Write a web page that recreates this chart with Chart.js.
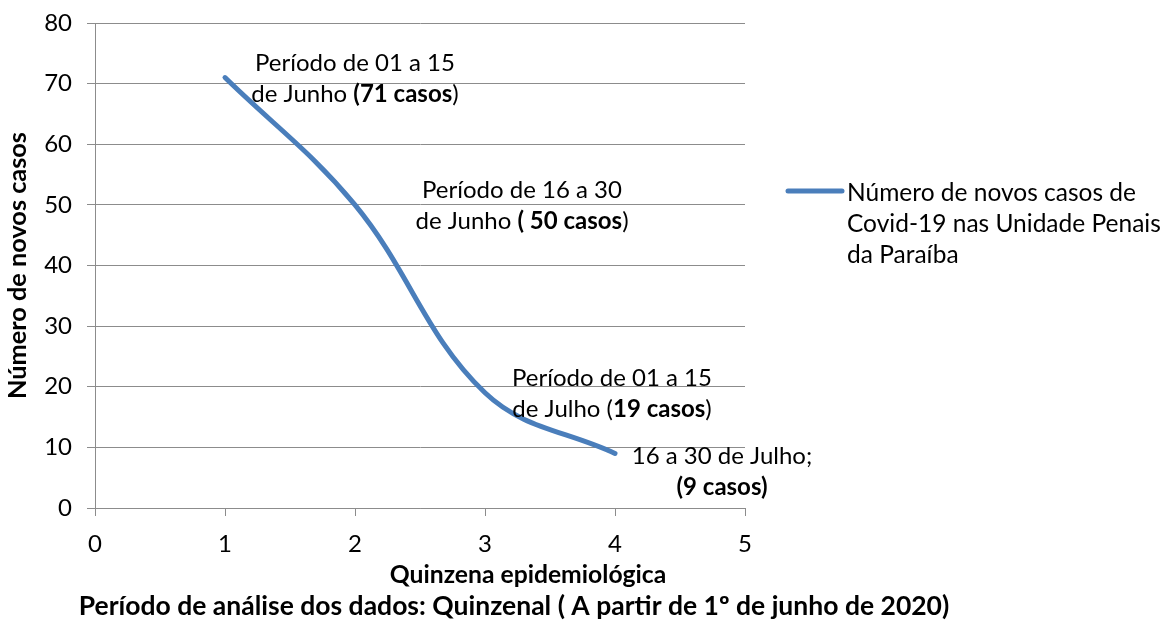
<!DOCTYPE html>
<html>
<head>
<meta charset="utf-8">
<script src="https://cdn.jsdelivr.net/npm/chart.js@4.4.1/dist/chart.umd.min.js"></script>
<style>
  html, body { margin: 0; padding: 0; background: #ffffff; }
  #wrap { width: 1165px; height: 622px; }
</style>
</head>
<body>
<div id="wrap"><canvas id="casesChart"></canvas></div>
<script>
// Chart values
const quinzenas = [1, 2, 3, 4];
const novosCasos = [71, 50, 19, 9];
const xTickValues = [0, 1, 2, 3, 4, 5];
const yTickValues = [0, 10, 20, 30, 40, 50, 60, 70, 80];
const seriesName = ['Número de novos casos de', 'Covid-19 nas Unidade Penais', 'da Paraíba'];
const yTitle = 'Número de novos casos';
const xTitle = 'Quinzena epidemiológica';
const footNote = 'Período de análise dos dados: Quinzenal ( A partir de 1º de junho de 2020)';

// point notes: each line is a list of [text, bold]
const pointNotes = [
    [[['Período de 01 a 15', false]], [['de Junho ', false], ['(71 casos', true], [')', false]]],
    [[['Período de 16 a 30', false]], [['de Junho ', false], ['( 50 casos', true], [')', false]]],
    [[['Período de 01 a 15', false]], [['de Julho (', false], ['19 casos', true], [')', false]]],
    [[['16 a 30 de Julho;', false]], [['(9 casos)', true]]]
];

// where each note sits relative to its point (px)
const noteOffsets = [
    { dx: 130, dy: -14 },
    { dx: 167, dy: -15 },
    { dx: 127, dy: -15 },
    { dx: 107, dy: 3 }
];

const lineBlue = '#4a7ebb';
const gridGray = '#8c8c8c';
const fontFamily = 'Lato, "Open Sans", sans-serif';
const textSize = 24;
const noteLineHeight = 31;

Chart.defaults.font.family = fontFamily;
Chart.defaults.color = '#000000';

function drawRichLine(c, parts, cx, cy) {
    let total = 0;
    parts.forEach(([t, b]) => {
        c.font = (b ? 'bold ' : '') + textSize + 'px ' + fontFamily;
        total += c.measureText(t).width;
    });
    let x = cx - total / 2;
    parts.forEach(([t, b]) => {
        c.font = (b ? 'bold ' : '') + textSize + 'px ' + fontFamily;
        c.fillText(t, x, cy);
        x += c.measureText(t).width;
    });
}

const extrasPlugin = {
    id: 'extras',
    afterDatasetsDraw(chart) {
        const c = chart.ctx;
        const meta = chart.getDatasetMeta(0);
        c.save();
        c.fillStyle = '#000000';
        c.textBaseline = 'middle';
        c.textAlign = 'left';

        // notes beside each point
        meta.data.forEach((pt, i) => {
            const note = pointNotes[i];
            const off = noteOffsets[i];
            note.forEach((parts, j) => {
                drawRichLine(c, parts, pt.x + off.dx, pt.y + off.dy + j * noteLineHeight);
            });
        });

        // legend, wrapped over three lines
        const lx = 788, ly = 191;
        c.strokeStyle = lineBlue;
        c.lineWidth = 5;
        c.lineCap = 'round';
        c.beginPath();
        c.moveTo(lx, ly);
        c.lineTo(lx + 54, ly);
        c.stroke();
        c.font = '24.5px ' + fontFamily;
        seriesName.forEach((t, j) => {
            c.fillText(t, lx + 59, ly + 2 + j * noteLineHeight);
        });

        // x title and the line under it
        c.textAlign = 'center';
        c.font = 'bold 24.7px ' + fontFamily;
        c.fillText(xTitle, 528, 575);
        c.font = 'bold 26.5px ' + fontFamily;
        c.fillText(footNote, 514, 606);
        c.restore();
    }
};

const ctx = document.getElementById('casesChart');

new Chart(ctx, {
    type: 'line',
    data: {
        datasets: [{
            label: seriesName.join(' '),
            data: quinzenas.map((q, i) => ({ x: q, y: novosCasos[i] })),
            borderColor: lineBlue,
            borderWidth: 5,
            borderCapStyle: 'round',
            tension: 0.38,
            pointRadius: 0,
            fill: false
        }]
    },
    options: {
        responsive: true,
        maintainAspectRatio: false,
        animation: false,
        layout: {
            padding: { top: 23, right: 420, bottom: 0, left: 0 }
        },
        plugins: {
            legend: { display: false },
            tooltip: { enabled: false }
        },
        scales: {
            x: {
                type: 'linear',
                min: 0,
                max: 5,
                afterBuildTicks(scale) {
                    scale.ticks = xTickValues.map(v => ({ value: v }));
                },
                afterFit(scale) {
                    scale.height = 114;
                },
                ticks: {
                    font: { size: textSize },
                    padding: 14
                },
                grid: {
                    drawOnChartArea: false,
                    drawTicks: true,
                    tickLength: 8,
                    color: gridGray
                },
                border: { color: gridGray }
            },
            y: {
                min: 0,
                max: 80,
                afterBuildTicks(scale) {
                    scale.ticks = yTickValues.map(v => ({ value: v }));
                },
                afterFit(scale) {
                    scale.width = 95;
                    // label padding should not push the plot area down
                    scale.paddingTop = 0;
                    scale.paddingBottom = 0;
                },
                ticks: {
                    font: { size: textSize },
                    padding: 15
                },
                grid: {
                    color: gridGray,
                    tickLength: 8
                },
                border: { color: gridGray },
                title: {
                    display: true,
                    text: yTitle,
                    font: { size: 25.3, weight: 'bold' },
                    padding: { top: 3, bottom: 0 }
                }
            }
        }
    },
    plugins: [extrasPlugin]
});
</script>
</body>
</html>
